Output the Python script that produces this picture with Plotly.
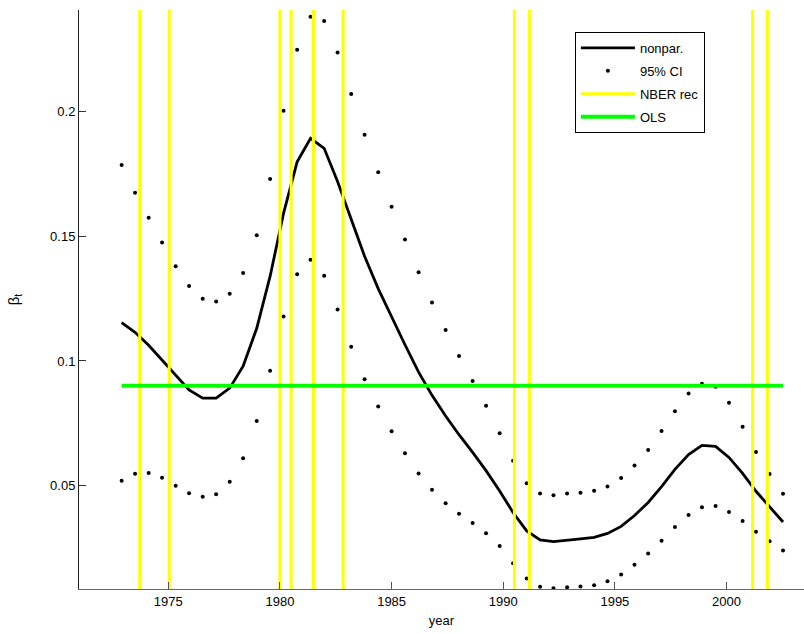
import plotly.graph_objects as go

# ---- data ----
years = [1972.91, 1973.51, 1974.12, 1974.72, 1975.33, 1975.93, 1976.54, 1977.14, 1977.75, 1978.35,
         1978.96, 1979.56, 1980.16, 1980.77, 1981.37, 1981.98, 1982.58, 1983.19, 1983.79, 1984.40,
         1985.00, 1985.60, 1986.21, 1986.81, 1987.42, 1988.02, 1988.63, 1989.23, 1989.84, 1990.44,
         1991.05, 1991.65, 1992.25, 1992.86, 1993.46, 1994.07, 1994.67, 1995.28, 1995.88, 1996.49,
         1997.09, 1997.69, 1998.30, 1998.90, 1999.51, 2000.11, 2000.72, 2001.32, 2001.93, 2002.53]

nonpar = [0.1154, 0.1115, 0.1063, 0.1004, 0.0940, 0.0884, 0.0851, 0.0851, 0.0891, 0.0979,
          0.1131, 0.1340, 0.1592, 0.1799, 0.1893, 0.1853, 0.1720, 0.1570, 0.1420, 0.1290,
          0.1175, 0.1065, 0.0955, 0.0862, 0.0779, 0.0704, 0.0633, 0.0560, 0.0478, 0.0392,
          0.0318, 0.0282, 0.0275, 0.0282, 0.0286, 0.0292, 0.0308, 0.0336, 0.0380, 0.0432,
          0.0496, 0.0565, 0.0624, 0.0661, 0.0657, 0.0613, 0.0549, 0.0477, 0.0414, 0.0354]

ci_upper = [0.1786, 0.1675, 0.1574, 0.1475, 0.1380, 0.1301, 0.1250, 0.1238, 0.1270, 0.1353,
            0.1504, 0.1730, 0.2004, 0.2249, 0.2381, 0.2364, 0.2237, 0.2071, 0.1907, 0.1757,
            0.1619, 0.1487, 0.1356, 0.1234, 0.1124, 0.1020, 0.0920, 0.0820, 0.0710, 0.0600,
            0.0509, 0.0468, 0.0461, 0.0468, 0.0471, 0.0479, 0.0496, 0.0530, 0.0580, 0.0643,
            0.0719, 0.0798, 0.0869, 0.0908, 0.0896, 0.0832, 0.0736, 0.0635, 0.0546, 0.0467]

ci_lower = [0.0519, 0.0547, 0.0550, 0.0531, 0.0499, 0.0469, 0.0455, 0.0465, 0.0515, 0.0610,
            0.0759, 0.0961, 0.1178, 0.1348, 0.1406, 0.1342, 0.1206, 0.1057, 0.0927, 0.0817,
            0.0718, 0.0630, 0.0548, 0.0483, 0.0429, 0.0387, 0.0350, 0.0309, 0.0258, 0.0188,
            0.0127, 0.0094, 0.0088, 0.0092, 0.0095, 0.0100, 0.0116, 0.0143, 0.0182, 0.0227,
            0.0279, 0.0334, 0.0382, 0.0413, 0.0418, 0.0394, 0.0358, 0.0315, 0.0277, 0.0239]

nber_dates = [1973.72, 1975.04, 1980.0, 1980.5, 1981.5, 1982.83, 1990.5, 1991.17, 2001.17, 2001.83]
ols_value = 0.09

x_tick_vals = [1975, 1980, 1985, 1990, 1995, 2000]
y_tick_vals = [0.05, 0.1, 0.15, 0.2]
y_tick_text = ["0.05", "0.1", "0.15", "0.2"]
x_range = [1971.0, 2003.47]
y_range = [0.0085, 0.2408]

FONT = "Liberation Sans, Arial, Helvetica, sans-serif"

fig = go.Figure()

fig.add_trace(go.Scatter(x=years, y=nonpar, mode="lines", name="nonpar.",
                         line=dict(color="black", width=2.8), legendgroup="g1"))
fig.add_trace(go.Scatter(x=years, y=ci_upper, mode="markers", name="95% CI",
                         marker=dict(color="black", size=4), legendgroup="g2"))
fig.add_trace(go.Scatter(x=years, y=ci_lower, mode="markers", name="95% CI",
                         marker=dict(color="black", size=4), legendgroup="g2", showlegend=False))

nx, ny = [], []
for d in nber_dates:
    nx += [d, d, None]
    ny += [y_range[0], y_range[1], None]
fig.add_trace(go.Scatter(x=nx, y=ny, mode="lines", name="NBER rec",
                         line=dict(color="#FFFF00", width=3), legendgroup="g3"))

fig.add_trace(go.Scatter(x=[years[0], years[-1]], y=[ols_value, ols_value], mode="lines", name="OLS",
                         line=dict(color="#00FF00", width=4), legendgroup="g4"))

fig.update_layout(
    width=804, height=634,
    margin=dict(l=79, r=0, t=10, b=45),
    paper_bgcolor="white", plot_bgcolor="white",
    font=dict(family=FONT, size=13, color="black"),
    showlegend=True,
    legend=dict(x=0.684, y=0.962, xanchor="left", yanchor="top",
                bgcolor="white", bordercolor="black", borderwidth=1,
                font=dict(family=FONT, size=13, color="black"),
                tracegroupgap=3, itemwidth=54),
    xaxis=dict(range=x_range, tickvals=x_tick_vals, ticks="inside", ticklen=7,
               tickcolor="#555", showline=True, linecolor="#666", linewidth=1,
               showgrid=False, zeroline=False, mirror=False,
               tickfont=dict(family=FONT, size=13, color="black"),
               title=dict(text="year", standoff=8, font=dict(family=FONT, size=13, color="black"))),
    yaxis=dict(range=y_range, tickvals=y_tick_vals, ticktext=y_tick_text, ticks="inside", ticklen=7,
               tickcolor="#333", showline=True, linecolor="#222", linewidth=1,
               showgrid=False, zeroline=False, mirror=False,
               tickfont=dict(family=FONT, size=13, color="black"),
               title=dict(text="β<sub>t</sub>", standoff=26, font=dict(family=FONT, size=15, color="black"))),
)

fig.write_html("out.html")
